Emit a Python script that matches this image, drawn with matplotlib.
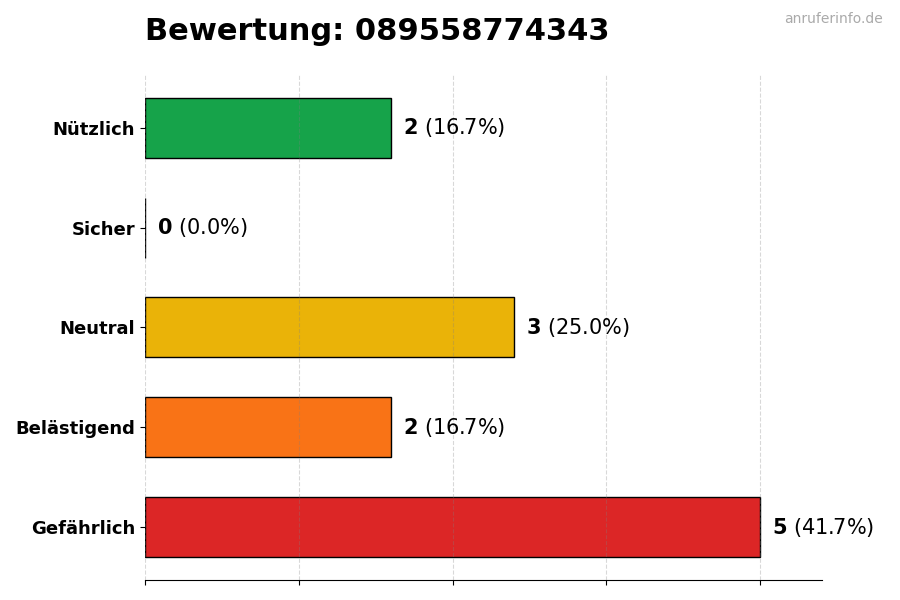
import matplotlib
matplotlib.use("Agg")
import matplotlib.pyplot as plt

# Bewertungen (von unten nach oben)
categories = ["Gefährlich", "Belästigend", "Neutral", "Sicher", "Nützlich"]
counts = [5, 2, 3, 0, 2]
colors = ["#dc2626", "#f97316", "#eab308", "#9ca3af", "#16a34a"]
phone = "089558774343"

total = sum(counts)

fig = plt.figure(figsize=(9, 6), dpi=100)
ax = fig.add_axes([0.161, 0.0333, 0.752, 0.842])

ax.barh(categories, counts, height=0.6, color=colors,
        edgecolor="black", linewidth=1, zorder=2)

ax.set_xlim(0, max(counts) * 1.1)
ax.set_xticks([0, 1.25, 2.5, 3.75, 5])
ax.set_xticklabels([])
ax.grid(axis="x", linestyle="--", color="gray", alpha=0.3, zorder=3)
ax.set_axisbelow(False)

for i, c in enumerate(counts):
    pct = c / total * 100
    ax.text(c + 0.1, i, rf"$\bf{{{c}}}$ ({pct:.1f}%)",
            va="center", ha="left", fontsize=15)

for lbl in ax.get_yticklabels():
    lbl.set_fontweight("bold")
    lbl.set_fontsize(13)

for s in ["top", "right", "left"]:
    ax.spines[s].set_visible(False)

fig.text(0.161, 0.947, f"Bewertung: {phone}", fontsize=22,
         fontweight="bold", ha="left", va="center")
fig.text(0.981, 0.969, "anruferinfo.de", fontsize=10, color="#aaaaaa",
         ha="right", va="center")

fig.savefig("out.png", dpi=100)
